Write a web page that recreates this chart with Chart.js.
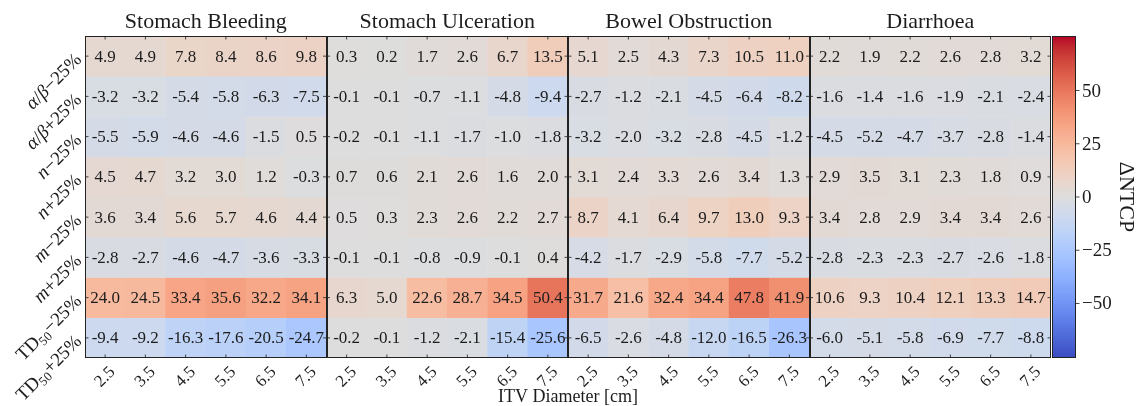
<!DOCTYPE html>
<html><head><meta charset="utf-8">
<script src="https://cdn.jsdelivr.net/npm/chart.js@4.4.1/dist/chart.umd.min.js"></script>
<style>html,body{margin:0;padding:0;background:#fff}canvas{display:block}</style>
</head><body>
<canvas id="c" width="1136" height="406"></canvas>
<script>
// ---------- data ----------
const groupTitles = ['Stomach Bleeding', 'Stomach Ulceration', 'Bowel Obstruction', 'Diarrhoea'];
const diameters = ['2.5', '3.5', '4.5', '5.5', '6.5', '7.5'];
// row tick labels: parts [text, style] (n = upright, i = italic, s = subscript)
const rowLabels = [
  [['α', 'i'], ['/', 'n'], ['β', 'i'], ['−25%', 'n']],
  [['α', 'i'], ['/', 'n'], ['β', 'i'], ['+25%', 'n']],
  [['n', 'i'], ['−25%', 'n']],
  [['n', 'i'], ['+25%', 'n']],
  [['m', 'i'], ['−25%', 'n']],
  [['m', 'i'], ['+25%', 'n']],
  [['TD', 'n'], ['50', 's'], ['−25%', 'n']],
  [['TD', 'n'], ['50', 's'], ['+25%', 'n']]
];
const stomachBleeding = [
  [4.9, 4.9, 7.8, 8.4, 8.6, 9.8],
  [-3.2, -3.2, -5.4, -5.8, -6.3, -7.5],
  [-5.5, -5.9, -4.6, -4.6, -1.5, 0.5],
  [4.5, 4.7, 3.2, 3.0, 1.2, -0.3],
  [3.6, 3.4, 5.6, 5.7, 4.6, 4.4],
  [-2.8, -2.7, -4.6, -4.7, -3.6, -3.3],
  [24.0, 24.5, 33.4, 35.6, 32.2, 34.1],
  [-9.4, -9.2, -16.3, -17.6, -20.5, -24.7]
];
const stomachUlceration = [
  [0.3, 0.2, 1.7, 2.6, 6.7, 13.5],
  [-0.1, -0.1, -0.7, -1.1, -4.8, -9.4],
  [-0.2, -0.1, -1.1, -1.7, -1.0, -1.8],
  [0.7, 0.6, 2.1, 2.6, 1.6, 2.0],
  [0.5, 0.3, 2.3, 2.6, 2.2, 2.7],
  [-0.1, -0.1, -0.8, -0.9, -0.1, 0.4],
  [6.3, 5.0, 22.6, 28.7, 34.5, 50.4],
  [-0.2, -0.1, -1.2, -2.1, -15.4, -25.6]
];
const bowelObstruction = [
  [5.1, 2.5, 4.3, 7.3, 10.5, 11.0],
  [-2.7, -1.2, -2.1, -4.5, -6.4, -8.2],
  [-3.2, -2.0, -3.2, -2.8, -4.5, -1.2],
  [3.1, 2.4, 3.3, 2.6, 3.4, 1.3],
  [8.7, 4.1, 6.4, 9.7, 13.0, 9.3],
  [-4.2, -1.7, -2.9, -5.8, -7.7, -5.2],
  [31.7, 21.6, 32.4, 34.4, 47.8, 41.9],
  [-6.5, -2.6, -4.8, -12.0, -16.5, -26.3]
];
const diarrhoea = [
  [2.2, 1.9, 2.2, 2.6, 2.8, 3.2],
  [-1.6, -1.4, -1.6, -1.9, -2.1, -2.4],
  [-4.5, -5.2, -4.7, -3.7, -2.8, -1.4],
  [2.9, 3.5, 3.1, 2.3, 1.8, 0.9],
  [3.4, 2.8, 2.9, 3.4, 3.4, 2.6],
  [-2.8, -2.3, -2.3, -2.7, -2.6, -1.8],
  [10.6, 9.3, 10.4, 12.1, 13.3, 14.7],
  [-6.0, -5.1, -5.8, -6.9, -7.7, -8.8]
];
const colorbarTicks = [-50, -25, 0, 25, 50];
const colorLimit = 75.6;
const xAxisTitle = 'ITV Diameter [cm]';
const colorbarTitle = 'ΔNTCP';

// ---------- colormap (coolwarm) ----------
const CW = [[59,76,192],[68,90,204],[77,104,215],[87,117,225],[98,130,234],[108,142,241],[119,154,247],[130,165,251],[141,176,254],[152,185,255],[163,194,255],[174,201,253],[184,208,249],[194,213,244],[204,217,238],[213,219,230],[221,221,221],[229,216,209],[236,211,197],[241,204,185],[245,196,173],[247,187,160],[247,177,148],[247,166,135],[244,154,123],[241,141,111],[236,127,99],[229,112,88],[222,96,77],[213,80,66],[203,62,56],[192,40,47],[180,4,38]];
function cmap(v) {
  let t = (v + colorLimit) / (2 * colorLimit);
  t = Math.max(0, Math.min(1, t));
  const p = t * (CW.length - 1);
  const i = Math.min(CW.length - 2, Math.floor(p));
  const f = p - i;
  const c = CW[i].map((a, k) => Math.round(a + (CW[i + 1][k] - a) * f));
  return `rgb(${c[0]},${c[1]},${c[2]})`;
}

// ---------- build chart structures ----------
const groups = [stomachBleeding, stomachUlceration, bowelObstruction, diarrhoea];
const columnLabels = [];
groups.forEach(() => diameters.forEach(d => columnLabels.push(d)));
const matrix = rowLabels.map((_, r) => {
  const row = [];
  groups.forEach(g => g[r].forEach(v => row.push(v)));
  return row;
});
const EPS = 0.008;
const datasets = matrix.map((row, r) => ({
  data: row.map(() => [r - EPS, r + 1 + EPS]),
  values: row,
  backgroundColor: row.map(v => cmap(v)),
  borderWidth: 0,
  barPercentage: 1.012,
  categoryPercentage: 1,
  grouped: false
}));

const FONT = '"Liberation Serif", "DejaVu Serif", serif';
const TXT = '#1c1c1c';

function partFont(style, size) {
  if (style === 'i') return `italic ${size}px ${FONT}`;
  if (style === 's') return `${Math.round(size * 0.7)}px ${FONT}`;
  return `${size}px ${FONT}`;
}
function drawParts(ctx, parts, size) {
  // right-aligned at (0,0), baseline middle
  let total = 0;
  const widths = parts.map(([t, s]) => { ctx.font = partFont(s, size); const w = ctx.measureText(t).width; total += w; return w; });
  let x = -total;
  ctx.textAlign = 'left';
  ctx.textBaseline = 'middle';
  parts.forEach(([t, s], k) => {
    ctx.font = partFont(s, size);
    ctx.fillText(t, x, s === 's' ? size * 0.28 : 0);
    x += widths[k];
  });
}

const heatPlugin = {
  id: 'heatDecor',
  afterDatasetsDraw(chart) {
    const ctx = chart.ctx;
    const a = chart.chartArea;
    const X = chart.scales.x, Y = chart.scales.y;
    const nCols = columnLabels.length;
    const colW = (a.right - a.left) / nCols;
    const nG = groups.length;
    const per = diameters.length;
    ctx.save();

    // cell values
    ctx.fillStyle = TXT;
    ctx.font = `17px ${FONT}`;
    ctx.textAlign = 'center';
    ctx.textBaseline = 'middle';
    chart.data.datasets.forEach((ds, r) => {
      const meta = chart.getDatasetMeta(r);
      meta.data.forEach((el, c) => {
        const p = el.getCenterPoint();
        ctx.fillText(ds.values[c].toFixed(1), p.x, p.y + 1);
      });
    });

    // ticks (inward) on each subplot
    ctx.strokeStyle = '#333';
    ctx.lineWidth = 0.9;
    const TL = 3.5;
    ctx.beginPath();
    for (let g = 0; g < nG; g++) {
      const x0 = a.left + g * per * colW, x1 = a.left + (g + 1) * per * colW;
      rowLabels.forEach((_, r) => {
        const y = Y.getPixelForValue(r + 0.5);
        ctx.moveTo(x0, y); ctx.lineTo(x0 + TL, y);
        ctx.moveTo(x1, y); ctx.lineTo(x1 - TL, y);
      });
    }
    for (let c = 0; c < nCols; c++) {
      const x = X.getPixelForValue(c);
      ctx.moveTo(x, a.top); ctx.lineTo(x, a.top + TL);
      ctx.moveTo(x, a.bottom); ctx.lineTo(x, a.bottom - TL);
    }
    ctx.stroke();

    // frames
    ctx.strokeStyle = '#222';
    ctx.lineWidth = 1;
    for (let g = 0; g < nG; g++) {
      const x0 = Math.round(a.left + g * per * colW) + 0.5;
      const x1 = Math.round(a.left + (g + 1) * per * colW) - 0.5;
      ctx.strokeRect(x0, Math.round(a.top) + 0.5, x1 - x0, Math.round(a.bottom - a.top) - 1);
    }

    // group titles
    ctx.fillStyle = TXT;
    ctx.font = `22px ${FONT}`;
    ctx.textAlign = 'center';
    ctx.textBaseline = 'alphabetic';
    groupTitles.forEach((t, g) => {
      const cx = a.left + (g + 0.5) * per * colW;
      ctx.fillText(t, cx, a.top - 8);
    });

    // row labels (rotated 45, anchored right-middle)
    rowLabels.forEach((parts, r) => {
      const y = Y.getPixelForValue(r + 0.5);
      ctx.save();
      ctx.translate(a.left - 6, y + 1);
      ctx.rotate(-Math.PI / 4);
      drawParts(ctx, parts, 19);
      ctx.restore();
    });

    // column tick labels (rotated 45, centered)
    ctx.font = `17px ${FONT}`;
    ctx.textAlign = 'center';
    ctx.textBaseline = 'middle';
    columnLabels.forEach((t, c) => {
      const x = X.getPixelForValue(c);
      ctx.save();
      ctx.translate(x, a.bottom + 19);
      ctx.rotate(-Math.PI / 4);
      ctx.fillText(t, 0, 0);
      ctx.restore();
    });

    // x axis title
    ctx.font = `18px ${FONT}`;
    ctx.textAlign = 'center';
    ctx.textBaseline = 'alphabetic';
    ctx.fillText(xAxisTitle, (a.left + a.right) / 2, 402);

    // colorbar
    const cbL = a.right + 1, cbR = a.right + 25, cbT = a.top, cbB = a.bottom;
    const vToY = v => cbT + (colorLimit - v) / (2 * colorLimit) * (cbB - cbT);
    for (let y = cbT; y < cbB; y++) {
      const v = colorLimit - (y + 0.5 - cbT) / (cbB - cbT) * 2 * colorLimit;
      ctx.fillStyle = cmap(v);
      ctx.fillRect(cbL, y, cbR - cbL, 1);
    }
    ctx.strokeStyle = '#222';
    ctx.lineWidth = 1;
    ctx.strokeRect(Math.round(cbL) + 0.5, Math.round(cbT) + 0.5, Math.round(cbR - cbL) - 1, Math.round(cbB - cbT) - 1);
    ctx.strokeStyle = '#333';
    ctx.lineWidth = 0.9;
    ctx.beginPath();
    colorbarTicks.forEach(v => { const y = vToY(v); ctx.moveTo(cbR, y); ctx.lineTo(cbR + 3.5, y); });
    ctx.stroke();
    ctx.fillStyle = TXT;
    ctx.font = `19px ${FONT}`;
    ctx.textAlign = 'left';
    ctx.textBaseline = 'middle';
    colorbarTicks.forEach(v => {
      const s = v < 0 ? '−' + Math.abs(v) : String(v);
      ctx.fillText(s, cbR + 6, vToY(v) + 1);
    });
    ctx.save();
    ctx.translate(1126, (cbT + cbB) / 2);
    ctx.rotate(Math.PI / 2);
    ctx.font = `22px ${FONT}`;
    ctx.textAlign = 'center';
    ctx.textBaseline = 'middle';
    ctx.fillText(colorbarTitle, 0, 0);
    ctx.restore();

    ctx.restore();
  }
};

new Chart(document.getElementById('c'), {
  type: 'bar',
  data: { labels: columnLabels, datasets },
  options: {
    responsive: false,
    animation: false,
    devicePixelRatio: 1,
    layout: { padding: { left: 85, top: 36, right: 85, bottom: 48 } },
    scales: {
      x: { type: 'category', display: false, offset: true, grid: { display: false } },
      y: { type: 'linear', display: false, min: 0, max: 8, reverse: true }
    },
    plugins: { legend: { display: false }, tooltip: { enabled: false } },
    events: []
  },
  plugins: [heatPlugin]
});
</script>
</body></html>
